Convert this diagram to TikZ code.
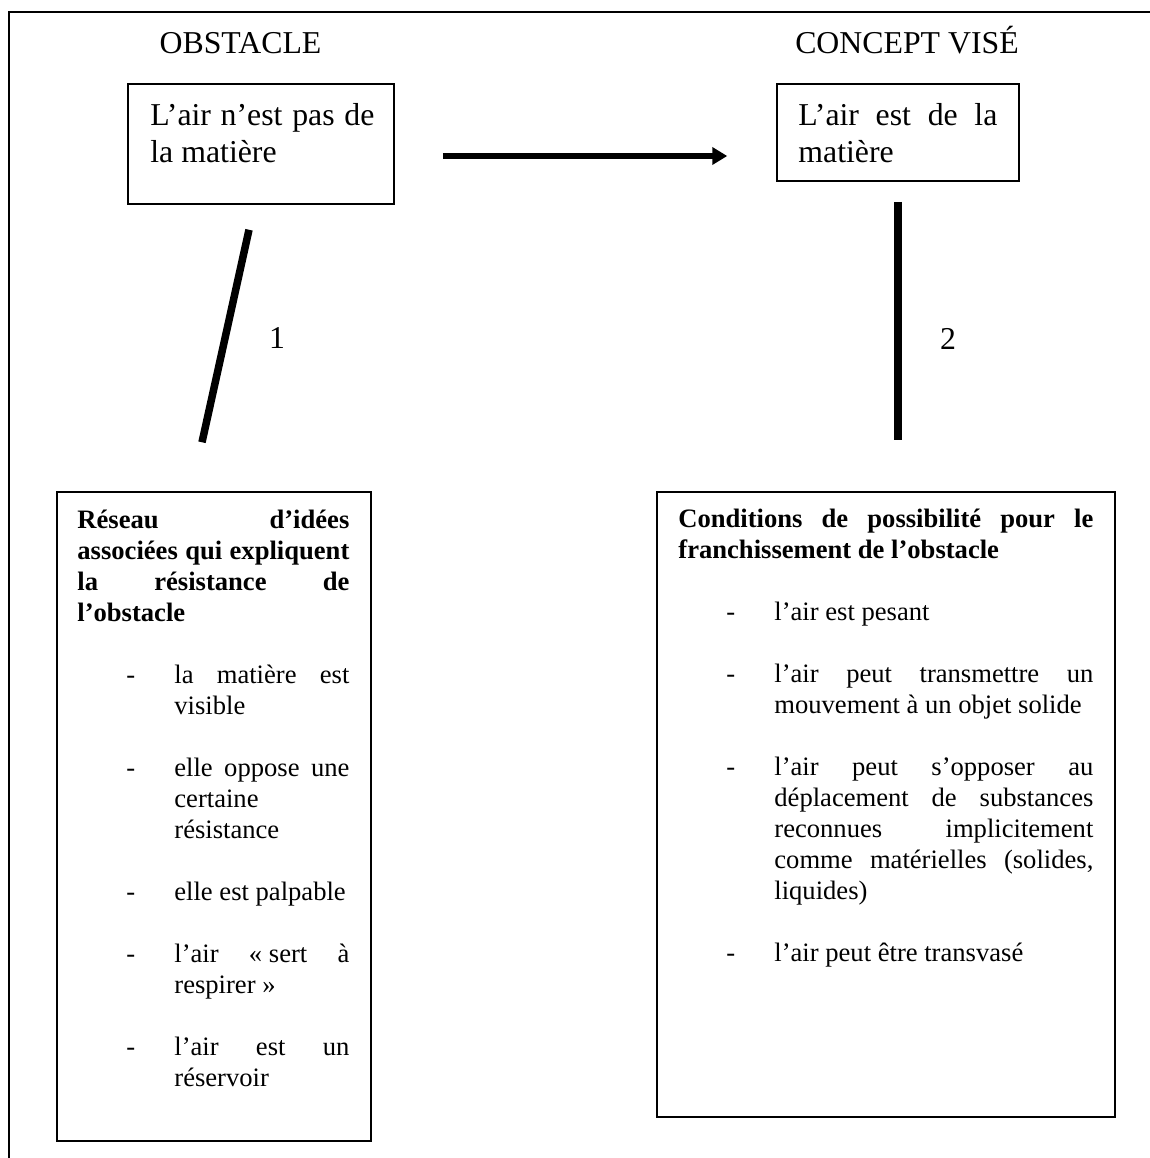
\documentclass[tikz,border=0pt]{standalone}
\usepackage{fontspec}
\setmainfont{Liberation Serif}
\usepackage{tikz}
\usetikzlibrary{calc}
\usetikzlibrary{arrows.meta}
\tolerance=10000
\hyphenpenalty=10000
\newcommand\retrait[1]{\par\setlength\parskip{15.5pt}\leftskip=#1\relax}
\newcommand\tiret{\par\noindent\llap{\makebox[24pt][l]{-}}}

\begin{document}
\begin{tikzpicture}[x=0.5pt,y=-0.5pt,
  cadre/.style={draw,line width=0.75pt,inner sep=0pt},
  grand/.style={font=\fontsize{15.9pt}{18.5pt}\selectfont},
  texte/.style={inner sep=0pt,anchor=base west,align=justify,font=\fontsize{13.3pt}{15.5pt}\selectfont},
  trait/.style={line width=3.75pt},
  fleche/.style={line width=3pt,-{Triangle[length=7.5pt,width=8.5pt]}}]
\useasboundingbox (0,0) rectangle (1150,1158);
\draw[line width=1pt] (9,1158) -- (9,12) -- (1150,12);

\node[grand,anchor=base] (obstacle) at (240.5,53) {OBSTACLE};
\node[grand,anchor=base] (concept) at (907,53) {CONCEPT VISÉ};

\node[cadre,minimum width=133pt,minimum height=60pt] (obst) at (261,144) {};
\node[texte,grand,text width=112pt] (obsttxt) at (150,125) {L’air n’est pas de\linebreak la matière};
\node[cadre,minimum width=121pt,minimum height=48.5pt] (vise) at (898,132.5) {};
\node[texte,grand,text width=99.5pt] (visetxt) at (798,125) {L’air est de la\linebreak matière};

\node[cadre,minimum width=157pt,minimum height=324.5pt] (reseau) at (214,816.5) {};
\node[texte,text width=136pt] (reseautxt) at (77,528) {\textbf{Réseau d’idées\linebreak associées qui expliquent\linebreak la résistance de\linebreak l’obstacle}
\retrait{48.5pt}
\tiret la matière est\linebreak visible
\tiret elle oppose une\linebreak certaine\linebreak résistance
\tiret elle est palpable
\tiret l’air «\nobreak\hspace{.25em}sert à\linebreak respirer\nobreak\hspace{.25em}»
\tiret l’air est un\linebreak réservoir\par};

\node[cadre,minimum width=229pt,minimum height=312.5pt] (cond) at (886,804.5) {};
\node[texte,text width=207.5pt] (condtxt) at (678,527) {\textbf{Conditions de possibilité pour le\linebreak franchissement de l’obstacle}
\retrait{48pt}
\tiret l’air est pesant
\tiret l’air peut transmettre un\linebreak mouvement à un objet solide
\tiret l’air peut s’opposer au\linebreak déplacement de substances\linebreak reconnues implicitement\linebreak comme matérielles (solides,\linebreak liquides)
\tiret l’air peut être transvasé\par};

\draw[fleche] ($(obst.east)+(48,12)$) -- ($(vise.west)+(-49,23.5)$);
\draw[trait] ($(obst.south)+(-12,25)$) -- ($(reseau.north)+(-12,-49)$);
\draw[trait] ($(vise.south)+(0,20)$) -- ($(cond.north)+(12,-51)$);
\node[grand,anchor=base] (un) at (277,348) {1};
\node[grand,anchor=base] (deux) at (948,349) {2};
\end{tikzpicture}
\end{document}
